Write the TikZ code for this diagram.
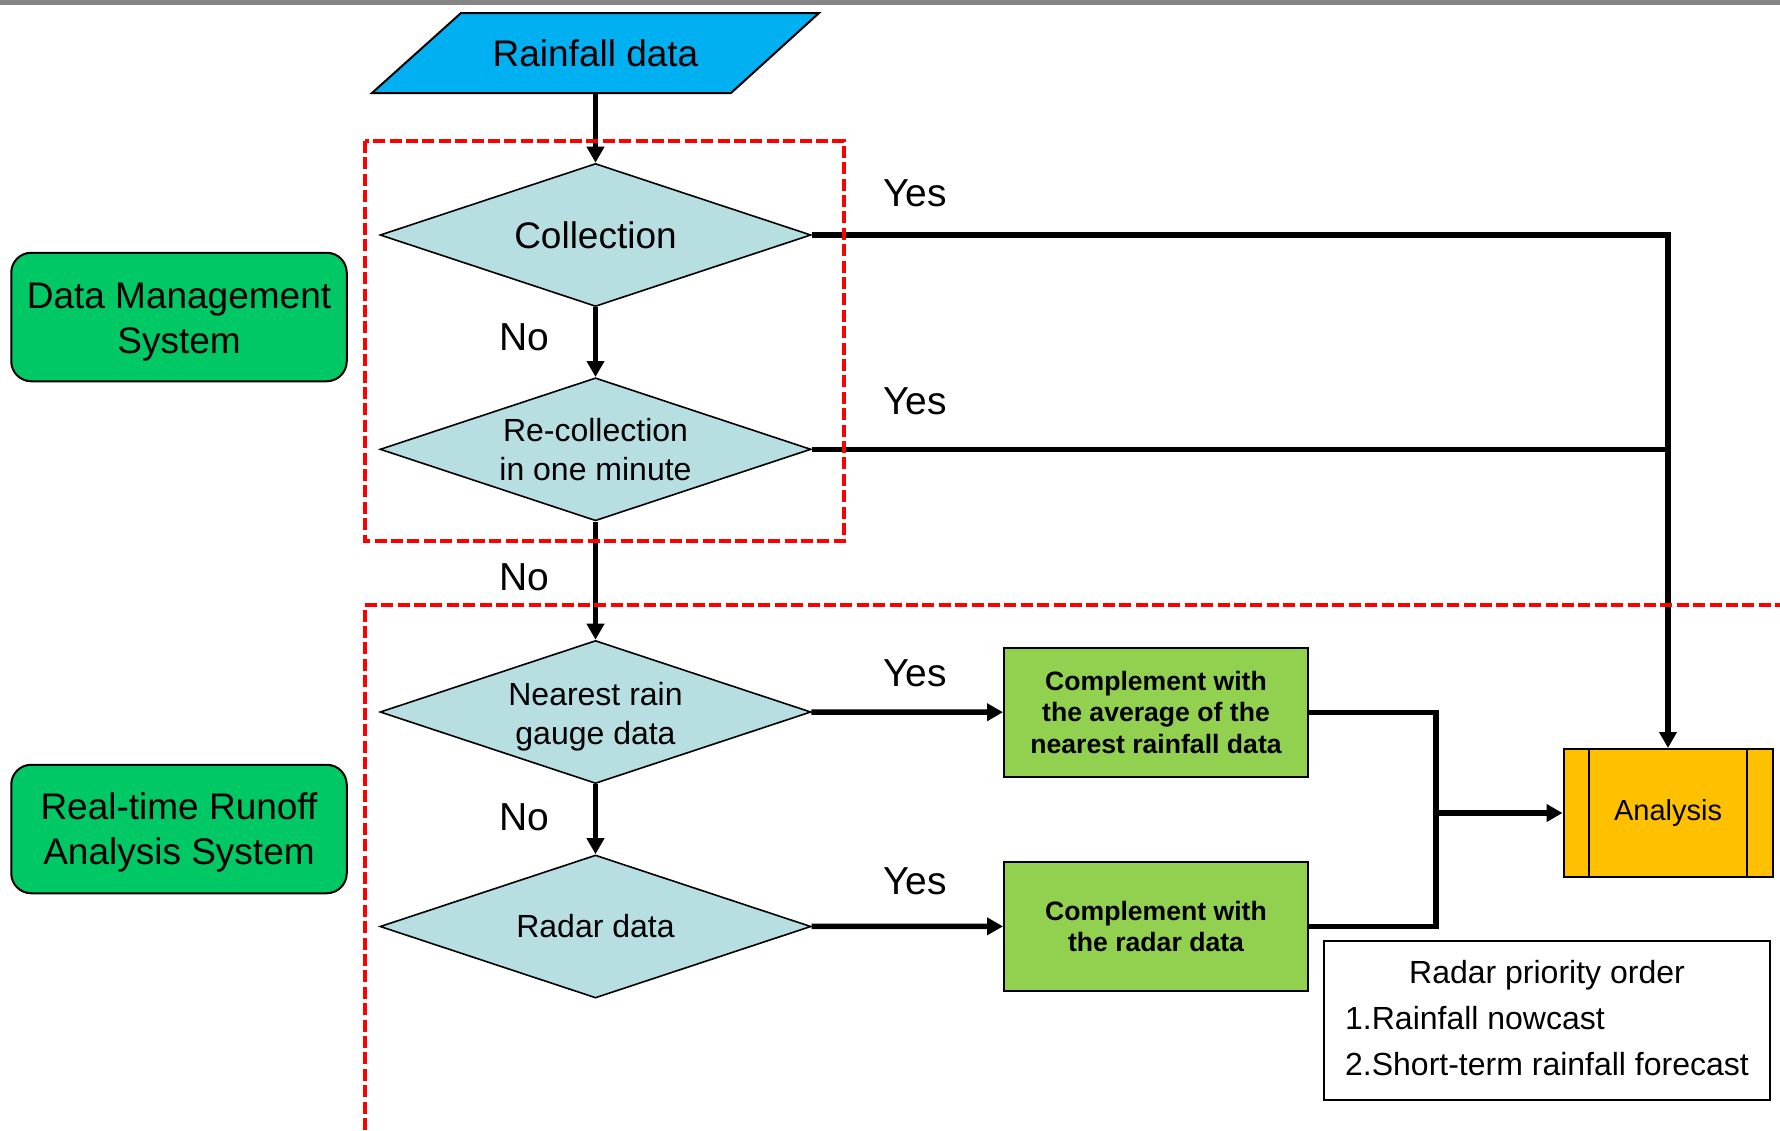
\documentclass[tikz,border=0pt]{standalone}
\usepackage{fontspec}
\setmainfont{Liberation Sans}
\usetikzlibrary{shapes.geometric,arrows.meta}
\definecolor{rainblue}{HTML}{00B0F0}
\definecolor{diacol}{HTML}{B7DEE1}
\definecolor{sysgreen}{HTML}{00C864}
\definecolor{compgreen}{HTML}{92D050}
\definecolor{anaorange}{HTML}{FFC000}
\definecolor{topgray}{HTML}{858585}
\newcommand{\toppad}[1]{\rule{0pt}{#1}}

\begin{document}
\begin{tikzpicture}[x=0.5pt,y=-0.5pt,
  decision/.style={diamond,draw,fill=diacol,line width=0.8pt,aspect=3,inner sep=0pt,
    minimum width=215.5pt,minimum height=71.5pt,align=center},
  sysbox/.style={draw,rounded corners=10pt,line width=1pt,fill=sysgreen,align=center,
    minimum width=167.75pt,minimum height=64.25pt,font=\fontsize{18.5}{22.5}\selectfont},
  fillbox/.style={draw,line width=1pt,fill=compgreen,align=center,
    minimum width=152pt,minimum height=64.5pt,font=\bfseries\fontsize{13.3}{15.6}\selectfont},
  answer/.style={font=\fontsize{19.5}{23}\selectfont},
  flow/.style={line width=2.75pt,-{Triangle[length=8pt,width=8.5pt]}},
  link/.style={line width=2.75pt},
  zone/.style={red,line width=2pt,dash pattern=on 6pt off 2.2pt}]
\useasboundingbox (0,0) rectangle (1780,1130);
\fill[topgray] (0,0) rectangle (1780,4.7);
%---input----------------------------------------
\filldraw[fill=rainblue,line width=1pt] (372,93) -- (461,13) -- (819,13) -- (731,93) -- cycle;
\node[minimum width=179.5pt,minimum height=40pt,font=\fontsize{18.5}{22}\selectfont] (rain) at (595.5,53) {Rainfall data};
%---decisions------------------------------------
\node[decision,font=\fontsize{18.5}{22}\selectfont] (coll) at (595.5,235) {Collection};
\node[decision,font=\fontsize{16}{19.5}\selectfont] (recoll) at (595.5,449.3) {Re-collection\\in one minute};
\node[decision,font=\fontsize{16}{19.5}\selectfont] (near) at (595.5,712) {\toppad{16pt}Nearest rain\\gauge data};
\node[decision,font=\fontsize{16}{19.5}\selectfont] (radar) at (595.5,926.5) {Radar data};
%---systems--------------------------------------
\node[sysbox] (dms) at (179,317) {\toppad{17.5pt}Data Management\\System};
\node[sysbox] (rtras) at (179,829) {\toppad{17pt}Real-time Runoff\\Analysis System};
%---complement and analysis----------------------
\node[fillbox] (comp1) at (1156,712.3) {Complement with\\the average of the\\nearest rainfall data};
\node[fillbox] (comp2) at (1156,926.3) {Complement with\\the radar data};
\node[draw,line width=1pt,fill=anaorange,minimum width=104.5pt,minimum height=64pt,
  font=\fontsize{14.5}{17}\selectfont] (ana) at (1668,813) {Analysis};
\draw[line width=1pt] ([xshift=13pt]ana.north west) -- ([xshift=13pt]ana.south west);
\draw[line width=1pt] ([xshift=-13.5pt]ana.north east) -- ([xshift=-13.5pt]ana.south east);
\node[draw,line width=1pt,minimum width=223pt,minimum height=79.5pt,inner sep=0pt,
  font=\fontsize{16}{23}\selectfont] (prio) at (1547,1020)
  {\begin{tabular}{@{}l@{}}\multicolumn{1}{@{}c@{}}{Radar priority order}\\1.Rainfall nowcast\\2.Short-term rainfall forecast\end{tabular}};
%---connectors-----------------------------------
\draw[flow] (rain) -- (coll);
\draw[flow] (coll) -- (recoll);
\draw[flow] (recoll) -- (near);
\draw[flow] (near) -- (radar);
\draw[flow] (near) -- (comp1);
\draw[flow] (radar) -- (comp2);
\draw[flow] (coll.east) -| (ana.north);
\draw[link] (recoll.east) -- (recoll.east -| ana.north);
\coordinate (join) at (1436,813);
\draw[link] (comp1.east) -| (join) |- (comp2.east);
\draw[flow] (join) -- (ana);
%---labels---------------------------------------
\node[answer] (yes1) at (915,193) {Yes};
\node[answer] (yes2) at (915,401) {Yes};
\node[answer] (yes3) at (915,673) {Yes};
\node[answer] (yes4) at (915,881) {Yes};
\node[answer] (no1) at (524.5,337) {No};
\node[answer] (no2) at (524.5,577) {No};
\node[answer] (no3) at (524.5,817) {No};
%---zones----------------------------------------
\draw[zone] (364.5,141) rectangle (844,541);
\draw[zone] (364.5,1130) -- (364.5,605.4) -- (1780,605.4);
\end{tikzpicture}
\end{document}
